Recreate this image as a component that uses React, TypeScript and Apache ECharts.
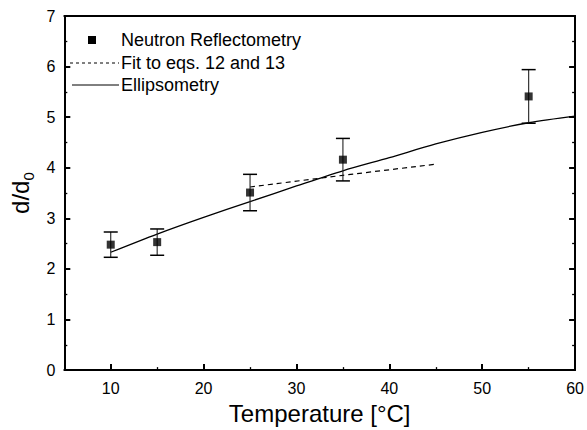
import React, { useEffect, useRef } from "react";
import * as echarts from "echarts";

const tempNR = [10, 15, 25, 35, 55];
const dNR = [2.48, 2.53, 3.51, 4.16, 5.41];
const errNR = [0.25, 0.26, 0.36, 0.42, 0.53];

const tempFit = [25, 35, 45];
const dFit = [3.62, 3.85, 4.07];

const tempEll = [10, 15, 20, 25, 30, 35, 40, 45, 50, 55, 60];
const dEll = [2.33, 2.69, 3.02, 3.33, 3.64, 3.94, 4.2, 4.47, 4.7, 4.89, 5.02];

const xMajor = [10, 20, 30, 40, 50, 60];
const xMinor = [15, 25, 35, 45, 55];

const legendNames = ["Neutron Reflectometry", "Fit to eqs. 12 and 13", "Ellipsometry"];

const FONT = "Liberation Sans, Arial, Helvetica, sans-serif";

export default function App() {
  const ref = useRef<HTMLDivElement>(null);
  useEffect(() => {
    document.body.style.margin = "0";
    const chart = echarts.init(ref.current!, null, { renderer: "svg" });
    const axisLineStyle = { color: "#000", width: 2 };
    const option: any = {
      animation: false,
      backgroundColor: "#fff",
      grid: { left: 58, right: 9, top: 16, bottom: 58, containLabel: false },
      xAxis: [
        {
          type: "value",
          min: 5,
          max: 60,
          position: "bottom",
          axisLine: { show: true, onZero: false, lineStyle: axisLineStyle },
          axisTick: { show: true, inside: true, length: 6, customValues: xMajor, lineStyle: axisLineStyle },
          axisLabel: { customValues: xMajor, fontSize: 16, color: "#000", fontFamily: FONT, margin: 10 },
          splitLine: { show: false },
          name: "Temperature [°C]",
          nameLocation: "middle",
          nameGap: 30,
          nameTextStyle: { fontSize: 24, color: "#000", fontFamily: FONT },
        },
        {
          type: "value",
          min: 5,
          max: 60,
          position: "bottom",
          axisLine: { show: false },
          axisTick: { show: true, inside: true, length: 3, customValues: xMinor, lineStyle: { color: "#000", width: 1.3 } },
          axisLabel: { show: false },
          splitLine: { show: false },
        },
        {
          type: "value",
          min: 5,
          max: 60,
          position: "top",
          axisLine: { show: true, onZero: false, lineStyle: axisLineStyle },
          axisTick: { show: false },
          axisLabel: { show: false },
          splitLine: { show: false },
        },
      ],
      yAxis: [
        {
          type: "value",
          min: 0,
          max: 7,
          interval: 1,
          position: "left",
          axisLine: { show: true, onZero: false, lineStyle: axisLineStyle },
          axisTick: { show: true, inside: true, length: 6, lineStyle: axisLineStyle },
          minorTick: { show: true, splitNumber: 2, length: 3, lineStyle: { color: "#000", width: 1.3 } },
          axisLabel: { fontSize: 16, color: "#000", fontFamily: FONT, margin: 9 },
          splitLine: { show: false },
          name: "{a|d/d}{b|0}",
          nameLocation: "middle",
          nameGap: 12,
          nameRotate: 90,
          nameTextStyle: {
            color: "#000",
            fontFamily: FONT,
            fontSize: 24,
            rich: {
              a: { fontSize: 24, color: "#000", fontFamily: FONT },
              b: { fontSize: 15, color: "#000", fontFamily: FONT, padding: [16, 0, 0, 0], verticalAlign: "bottom" },
            },
          },
        },
        {
          type: "value",
          min: 0,
          max: 7,
          interval: 1,
          position: "right",
          axisLine: { show: true, onZero: false, lineStyle: axisLineStyle },
          axisTick: { show: true, inside: true, length: 6, lineStyle: axisLineStyle },
          minorTick: { show: true, splitNumber: 2, length: 3, lineStyle: { color: "#000", width: 1.3 } },
          axisLabel: { show: false },
          splitLine: { show: false },
        },
      ],
      series: [
        {
          name: legendNames[2],
          type: "line",
          xAxisIndex: 0,
          yAxisIndex: 0,
          data: tempEll.map((t, i) => [t, dEll[i]]),
          smooth: 0.3,
          symbol: "none",
          lineStyle: { color: "#000", width: 1.3 },
          z: 3,
        },
        {
          name: legendNames[1],
          type: "line",
          xAxisIndex: 0,
          yAxisIndex: 0,
          data: tempFit.map((t, i) => [t, dFit[i]]),
          smooth: 0.3,
          symbol: "none",
          lineStyle: { color: "#000", width: 1.2, type: [5, 4] },
          z: 3,
        },
        {
          name: "errors",
          type: "custom",
          xAxisIndex: 0,
          yAxisIndex: 0,
          data: tempNR.map((t, i) => [t, dNR[i], errNR[i]]),
          encode: { x: 0, y: 1 },
          renderItem: (params: any, api: any) => {
            const x = api.value(0);
            const y = api.value(1);
            const e = api.value(2);
            const top = api.coord([x, y + e]);
            const bot = api.coord([x, y - e]);
            const h = 7;
            return {
              type: "group",
              children: [
                { type: "line", shape: { x1: top[0], y1: top[1], x2: bot[0], y2: bot[1] }, style: { stroke: "#222", lineWidth: 1.1 } },
                { type: "line", shape: { x1: top[0] - h, y1: top[1], x2: top[0] + h, y2: top[1] }, style: { stroke: "#000", lineWidth: 1.5 } },
                { type: "line", shape: { x1: bot[0] - h, y1: bot[1], x2: bot[0] + h, y2: bot[1] }, style: { stroke: "#000", lineWidth: 1.5 } },
              ],
            };
          },
          z: 4,
        },
        {
          name: legendNames[0],
          type: "scatter",
          xAxisIndex: 0,
          yAxisIndex: 0,
          data: tempNR.map((t, i) => [t, dNR[i]]),
          symbol: "rect",
          symbolSize: 8,
          itemStyle: { color: "#000" },
          z: 5,
        },
      ],
      graphic: [
        { type: "rect", shape: { x: 88, y: 36, width: 8, height: 8 }, style: { fill: "#000" } },
        { type: "text", x: 121, y: 40, style: { text: legendNames[0], fontSize: 18, fontFamily: FONT, fill: "#000", verticalAlign: "middle" } },
        { type: "line", shape: { x1: 70, y1: 63, x2: 119, y2: 63 }, style: { stroke: "#000", lineWidth: 1, lineDash: [3, 3] } },
        { type: "text", x: 121, y: 63, style: { text: legendNames[1], fontSize: 18, fontFamily: FONT, fill: "#000", verticalAlign: "middle" } },
        { type: "line", shape: { x1: 72, y1: 85, x2: 119, y2: 85 }, style: { stroke: "#000", lineWidth: 1 } },
        { type: "text", x: 121, y: 85, style: { text: legendNames[2], fontSize: 18, fontFamily: FONT, fill: "#000", verticalAlign: "middle" } },
      ],
    };
    chart.setOption(option);
    return () => chart.dispose();
  }, []);
  return <div ref={ref} style={{ width: 587, height: 430 }} />;
}
